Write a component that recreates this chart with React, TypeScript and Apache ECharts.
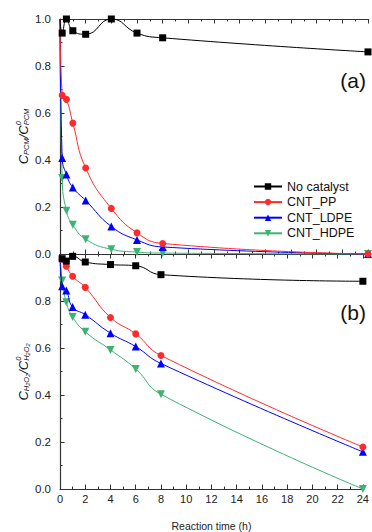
import React, { useEffect, useRef } from "react";
import * as echarts from "echarts";

const times = [0, 0.17, 0.5, 1, 2, 4, 6, 8, 24];
const xTicks = [0, 2, 4, 6, 8, 10, 12, 14, 16, 18, 20, 22, 24];
const seriesNames = ["No catalyst", "CNT_PP", "CNT_LDPE", "CNT_HDPE"];

// panel (a): C_PCM / C0_PCM
const noCatA = [1.0, 0.94, 1.0, 0.95, 0.935, 1.0, 0.94, 0.92, 0.86];
const ppA = [1.0, 0.675, 0.658, 0.557, 0.366, 0.194, 0.09, 0.045, 0.0];
const ldpeA = [1.0, 0.409, 0.338, 0.283, 0.228, 0.117, 0.06, 0.03, 0.0];
const hdpeA = [1.0, 0.323, 0.184, 0.124, 0.063, 0.02, 0.008, 0.004, 0.0];

// panel (b): C_H2O2 / C0_H2O2
const noCatB = [1.0, 0.98, 0.97, 0.99, 0.966, 0.955, 0.95, 0.912, 0.884];
const ppB = [1.0, 0.978, 0.948, 0.905, 0.858, 0.73, 0.66, 0.568, 0.179];
const ldpeB = [1.0, 0.863, 0.845, 0.774, 0.742, 0.663, 0.606, 0.534, 0.158];
const hdpeB = [1.0, 0.887, 0.795, 0.732, 0.669, 0.592, 0.511, 0.403, 0.0];

const colors = ["#000000", "#ff2b2b", "#0000ff", "#3cb371"];
const symbols = ["rect", "circle", "triangle", "triangle"];
const symbolRot = [0, 0, 0, 180];
const symbolSizes = [7, 7, 8, 8];

const FONT = '"Liberation Sans", Arial, sans-serif';

type Run = { t: string; s: number; dy: number; it?: boolean };
type Piece = Run[];
type Grp = Piece[];

let ctx: CanvasRenderingContext2D | null = null;
function fontOf(r: Run) {
  return `${r.it === false ? "" : "italic "}${r.s}px ${FONT}`;
}
function measure(r: Run) {
  if (!ctx) ctx = document.createElement("canvas").getContext("2d");
  if (!ctx) return r.t.length * r.s * 0.6;
  ctx.font = fontOf(r);
  return ctx.measureText(r.t).width;
}

function layoutLabel(groups: Grp[], cx: number, cy: number) {
  const widths = groups.map((g) =>
    Math.max(...g.map((p) => p.reduce((a, r) => a + measure(r), 0)))
  );
  const total = widths.reduce((a, b) => a + b, 0);
  let x = -total / 2;
  const children: any[] = [];
  groups.forEach((g, i) => {
    g.forEach((p) => {
      let px = x;
      p.forEach((r) => {
        children.push({
          type: "text",
          x: px,
          y: r.dy,
          style: {
            text: r.t,
            font: fontOf(r),
            fill: "#111",
            textAlign: "left",
            textVerticalAlign: "middle",
          },
        });
        px += measure(r);
      });
    });
    x += widths[i];
  });
  return { type: "group", x: cx, y: cy, rotation: Math.PI / 2, children };
}

const M = 13;
const S = 7.5;
const SS = 5.5;
const SUB = 3.8;
const SUP = -4.8;

function pcmSub(dy: number): Piece {
  return [{ t: "PCM", s: S, dy }];
}
function h2o2Sub(dy: number): Piece {
  return [
    { t: "H", s: S, dy },
    { t: "2", s: SS, dy: dy + 1.5 },
    { t: "O", s: S, dy },
    { t: "2", s: SS, dy: dy + 1.5 },
  ];
}

export default function App() {
  const ref = useRef<HTMLDivElement>(null);
  useEffect(() => {
    if (!ref.current) return;
    const chart = echarts.init(ref.current, undefined, { renderer: "svg" });

    const axisLine = { show: true, onZero: false, lineStyle: { color: "#333", width: 1.2 } };
    const tick = { show: true, inside: true, length: 4.5, lineStyle: { color: "#333", width: 1 } };
    const minor = { show: true, splitNumber: 2, length: 2.5, lineStyle: { color: "#333", width: 1 } };

    const xBase = (grid: number, pos: string, labels: boolean, name?: string) => ({
      type: "value",
      gridIndex: grid,
      position: pos,
      min: 0,
      max: 24,
      interval: 2,
      axisLine,
      axisTick: tick,
      minorTick: minor,
      splitLine: { show: false },
      axisLabel: {
        show: labels,
        fontSize: 11,
        fontFamily: FONT,
        color: "#222",
        margin: 4,
        customValues: xTicks,
      },
      name: name || "",
      nameLocation: "middle",
      nameGap: 31,
      nameTextStyle: { fontSize: 10.5, fontFamily: FONT, color: "#222" },
    });

    const yBase = (grid: number, hideTop: boolean) => ({
      type: "value",
      gridIndex: grid,
      min: 0,
      max: 1,
      interval: 0.2,
      axisLine,
      axisTick: tick,
      minorTick: minor,
      splitLine: { show: false },
      axisLabel: {
        fontSize: 11.5,
        fontFamily: FONT,
        color: "#222",
        margin: 9,
        formatter: (v: number) => (hideTop && v > 0.99 ? "" : v.toFixed(1)),
      },
    });

    const mk = (vals: number[], i: number, xi: number, yi: number) => ({
      type: "line",
      name: seriesNames[i],
      xAxisIndex: xi,
      yAxisIndex: yi,
      data: times.map((t, k) =>
        k === 0 ? { value: [t, vals[k]], symbol: "none" } : [t, vals[k]]
      ),
      smooth: 0.5,
      symbol: symbols[i],
      symbolSize: symbolSizes[i],
      symbolRotate: symbolRot[i],
      lineStyle: { width: 1, color: colors[i] },
      itemStyle: { color: colors[i] },
      z: 10 - i,
      clip: false,
    });

    const labelA = layoutLabel(
      [
        [[{ t: "C", s: M, dy: 0 }]],
        [pcmSub(SUB)],
        [[{ t: "/", s: M, dy: 0 }]],
        [[{ t: "C", s: M, dy: 0 }]],
        [[{ t: "0", s: S, dy: SUP }], pcmSub(SUB)],
      ],
      23,
      136.5
    );
    const labelB = layoutLabel(
      [
        [[{ t: "C", s: M, dy: 0 }]],
        [h2o2Sub(SUB)],
        [[{ t: "/", s: M, dy: 0 }]],
        [[{ t: "C", s: M, dy: 0 }]],
        [[{ t: "0", s: S, dy: SUP }], h2o2Sub(SUB)],
      ],
      23,
      372
    );

    chart.setOption({
      animation: false,
      backgroundColor: "#ffffff",
      textStyle: { fontFamily: FONT },
      grid: [
        { left: 60, top: 19, height: 235, right: 4 },
        { left: 60, top: 254, height: 237, right: 4 },
      ],
      xAxis: [
        xBase(0, "bottom", false),
        xBase(0, "top", false),
        xBase(1, "bottom", true, "Reaction time (h)"),
        xBase(1, "top", false),
      ],
      yAxis: [yBase(0, false), yBase(1, true)],
      legend: {
        orient: "vertical",
        left: 248,
        top: 175,
        itemWidth: 28,
        itemHeight: 8,
        itemGap: 2.6,
        data: seriesNames,
        textStyle: { fontSize: 12.5, fontFamily: FONT, color: "#111" },
      },
      series: [
        mk(noCatA, 0, 0, 0),
        mk(ppA, 1, 0, 0),
        mk(ldpeA, 2, 0, 0),
        mk(hdpeA, 3, 0, 0),
        mk(noCatB, 0, 2, 1),
        mk(ppB, 1, 2, 1),
        mk(ldpeB, 2, 2, 1),
        mk(hdpeB, 3, 2, 1),
      ],
      graphic: [
        labelA,
        labelB,
        {
          type: "text",
          x: 366,
          y: 80,
          style: {
            text: "(a)",
            font: `21px ${FONT}`,
            fill: "#111",
            textAlign: "right",
            textVerticalAlign: "middle",
          },
        },
        {
          type: "text",
          x: 366,
          y: 312,
          style: {
            text: "(b)",
            font: `21px ${FONT}`,
            fill: "#111",
            textAlign: "right",
            textVerticalAlign: "middle",
          },
        },
      ],
    });
    return () => chart.dispose();
  }, []);
  return (
    <div
      ref={ref}
      style={{ position: "fixed", left: 0, top: 0, width: 372, height: 532 }}
    />
  );
}
